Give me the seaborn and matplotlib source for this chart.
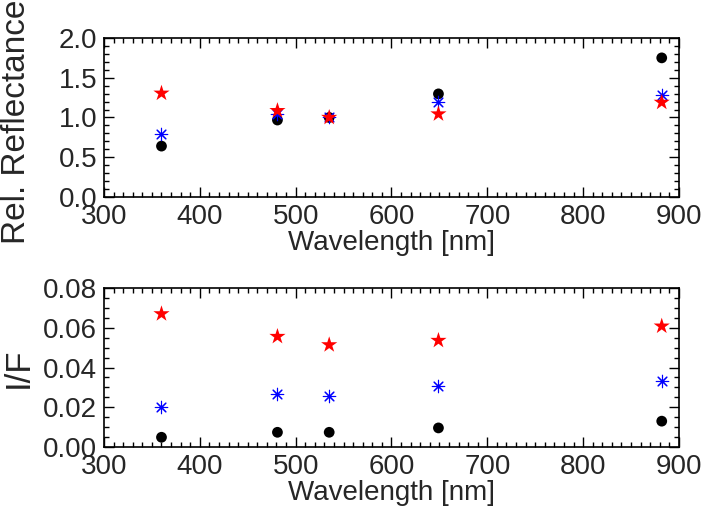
import numpy as np
import pandas as pd
import matplotlib
matplotlib.use("Agg")
import matplotlib.pyplot as plt
from matplotlib.ticker import MultipleLocator, FormatStrFormatter
import seaborn as sns

# filter wavelengths
wavelength = [360, 481, 535, 649, 882]

# relative reflectance (normalised at 535 nm)
rel_red = [1.305, 1.086, 1.0, 1.044, 1.19]
rel_blue = [0.796, 1.05, 1.0, 1.20, 1.284]
rel_black = [0.64, 0.968, 1.0, 1.297, 1.75]

# I/F
iof_red = [0.0670, 0.0556, 0.0514, 0.0536, 0.0608]
iof_blue = [0.0202, 0.0266, 0.0256, 0.0307, 0.0330]
iof_black = [0.0049, 0.0074, 0.0074, 0.0096, 0.0130]

sns.set_style("ticks")
plt.rcParams['font.family'] = ['Liberation Sans', 'DejaVu Sans']

fig = plt.figure(figsize=(7.05, 5.17), dpi=100)
ax1 = fig.add_axes([0.1475, 0.619, 0.8156, 0.3075])
ax2 = fig.add_axes([0.1475, 0.1354, 0.8156, 0.3075])

asterisk = (8, 2, 0)

def draw(ax, red, blue, black):
    sns.scatterplot(x=wavelength, y=black, ax=ax, color="black", marker="o",
                    s=60, edgecolor="none", zorder=3)
    sns.scatterplot(x=wavelength, y=blue, ax=ax, color="blue", marker=asterisk,
                    s=80, linewidth=0.8, zorder=4)
    sns.scatterplot(x=wavelength, y=red, ax=ax, color="red", marker="*",
                    s=150, edgecolor="none", zorder=5)

draw(ax1, rel_red, rel_blue, rel_black)
draw(ax2, iof_red, iof_blue, iof_black)

for ax in (ax1, ax2):
    ax.set_xlim(300, 900)
    ax.xaxis.set_major_locator(MultipleLocator(100))
    ax.xaxis.set_minor_locator(MultipleLocator(10))
    ax.tick_params(which="both", direction="in", top=True, right=True,
                   labelsize=20, width=1, color="black", pad=5)
    ax.tick_params(which="major", length=7)
    ax.tick_params(which="minor", length=3.5)
    for sp in ax.spines.values():
        sp.set_visible(True)
        sp.set_color("black")
        sp.set_linewidth(1.2)
    ax.set_xlabel("Wavelength [nm]", fontsize=20, labelpad=0)

ax1.set_ylim(0, 2.0)
ax1.yaxis.set_major_locator(MultipleLocator(0.5))
ax1.yaxis.set_minor_locator(MultipleLocator(0.1))
ax1.yaxis.set_major_formatter(FormatStrFormatter("%.1f"))
ax1.set_ylabel("Rel. Reflectance", fontsize=24)
ax1.yaxis.set_label_coords(-0.125, 0.47)

ax2.set_ylim(0, 0.08)
ax2.yaxis.set_major_locator(MultipleLocator(0.02))
ax2.yaxis.set_minor_locator(MultipleLocator(0.005))
ax2.yaxis.set_major_formatter(FormatStrFormatter("%.2f"))
ax2.set_ylabel("I/F", fontsize=25)
ax2.yaxis.set_label_coords(-0.12, 0.5)

fig.savefig("out.png", dpi=100)
plt.close()
